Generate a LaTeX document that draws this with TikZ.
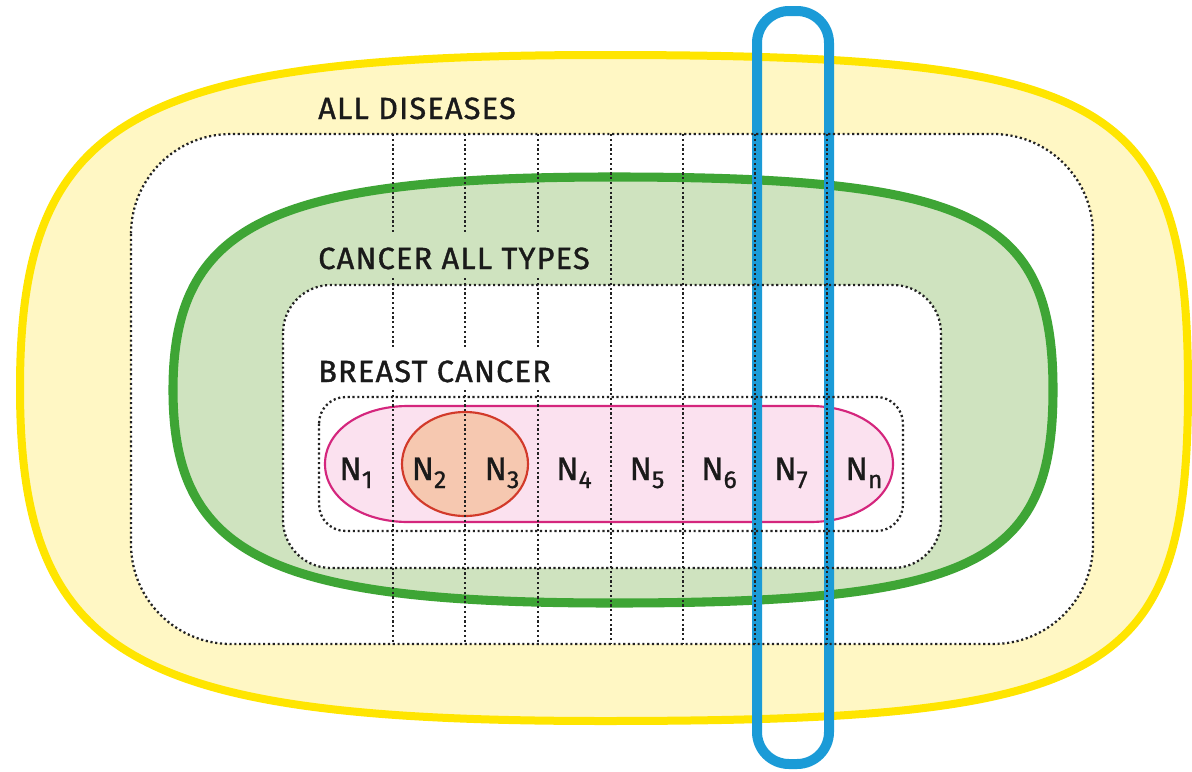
\documentclass[tikz,border=0pt]{standalone}
\usepackage{fontspec}
\setmainfont{Fira Sans}
\newfontfamily\hfont{Fira Sans}[FakeBold=1.2, LetterSpace=4]
\newfontfamily\nfont{Fira Sans}[FakeBold=1.0]
\definecolor{ylwline}{HTML}{FFE500}
\definecolor{ylwfill}{HTML}{FFF7C4}
\definecolor{grnline}{HTML}{3EA535}
\definecolor{grnfill}{HTML}{CFE3BF}
\definecolor{pnkline}{HTML}{D4267D}
\definecolor{pnkfill}{HTML}{FBE1EF}
\definecolor{redline}{HTML}{D23A2A}
\definecolor{redfill}{HTML}{F6C8B0}
\definecolor{bluline}{HTML}{1B9BD7}
\definecolor{dotc}{HTML}{222222}
\definecolor{txtc}{HTML}{1A1A1A}
\newcommand{\Nlab}[1]{N\raisebox{-6pt}{\fontsize{18.5}{18.5}\selectfont #1}}
\begin{document}
\begin{tikzpicture}[x=0.75pt,y=-0.75pt,
  sell/.style n args={6}{insert path={(#1+#3,#2) .. controls (#1+#3,#2+#6*#4) and (#1+#6*#3,#2+#4) .. (#1,#2+#4) .. controls (#1-#5*#3,#2+#4) and (#1-#3,#2+#5*#4) .. (#1-#3,#2) .. controls (#1-#3,#2-#5*#4) and (#1-#5*#3,#2-#4) .. (#1,#2-#4) .. controls (#1+#6*#3,#2-#4) and (#1+#3,#2-#6*#4) .. (#1+#3,#2) -- cycle}},
  dotline/.style={draw=dotc, line width=1.7pt, dash pattern=on 1.6pt off 2pt},
  heading/.style={anchor=base west, inner sep=0pt, text=txtc, font=\hfont\fontsize{23}{26}\selectfont},
  nlabel/.style={anchor=base, inner sep=0pt, text=txtc, font=\nfont\fontsize{24.5}{27}\selectfont}
]
\useasboundingbox (0,0) rectangle (1192,771);
% all diseases
\path[fill=ylwfill, draw=ylwline, line width=6pt, sell={604}{388}{584}{333}{0.81}{0.87}];
\path[fill=white] (131,134) [rounded corners=75pt] rectangle (1093,644);
% cancer all types
\path[fill=grnfill, draw=grnline, line width=6.8pt, sell={613}{390}{440}{213}{0.78}{0.82}];
\path[fill=white] (283,285) [rounded corners=36pt] rectangle (941,568);
% breast cancer group
\draw[fill=pnkfill, draw=pnkline, line width=1.6pt]
  (408,406) -- (810,406) .. controls (810+0.57*83,406) and (893,464-0.57*58) .. (893,464)
  .. controls (893,464+0.57*58) and (810+0.57*83,522) .. (810,522) -- (408,522)
  .. controls (408-0.57*83,522) and (325,464+0.57*58) .. (325,464)
  .. controls (325,464-0.57*58) and (408-0.57*83,406) .. (408,406) -- cycle;
\draw[fill=redfill, draw=redline, line width=1.6pt] (465,464) ellipse [x radius=63, y radius=52];
% blue column
\draw[draw=bluline, line width=7.5pt, rounded corners=24pt] (757,11) rectangle (829,764);
% dotted outlines
\draw[dotline, rounded corners=75pt] (131,134) rectangle (1093,644);
\draw[dotline, rounded corners=36pt] (283,285) rectangle (941,568);
\draw[dotline, rounded corners=20pt] (319,397) rectangle (903,531);
\foreach \x in {393,465,538} {
  \draw[dotline] (\x,134) -- (\x,232);
  \draw[dotline] (\x,278) -- (\x,347);
  \draw[dotline] (\x,390) -- (\x,644);
}
\foreach \x in {611,683,755,827} {
  \draw[dotline] (\x,134) -- (\x,644);
}
% headings
\node[heading] (hall) at (318,119) {ALL DISEASES};
\node[heading] (hcan) at (318,269) {CANCER ALL TYPES};
\node[heading] (hbre) at (318,382) {BREAST CANCER};
% labels
\node[nlabel] (n1) at (356,480) {\Nlab{1}};
\node[nlabel] (n2) at (429,480) {\Nlab{2}};
\node[nlabel] (n3) at (502,480) {\Nlab{3}};
\node[nlabel] (n4) at (574,480) {\Nlab{4}};
\node[nlabel] (n5) at (647,480) {\Nlab{5}};
\node[nlabel] (n6) at (719,480) {\Nlab{6}};
\node[nlabel] (n7) at (791,480) {\Nlab{7}};
\node[nlabel] (nn) at (864,480) {\Nlab{n}};
\end{tikzpicture}
\end{document}
